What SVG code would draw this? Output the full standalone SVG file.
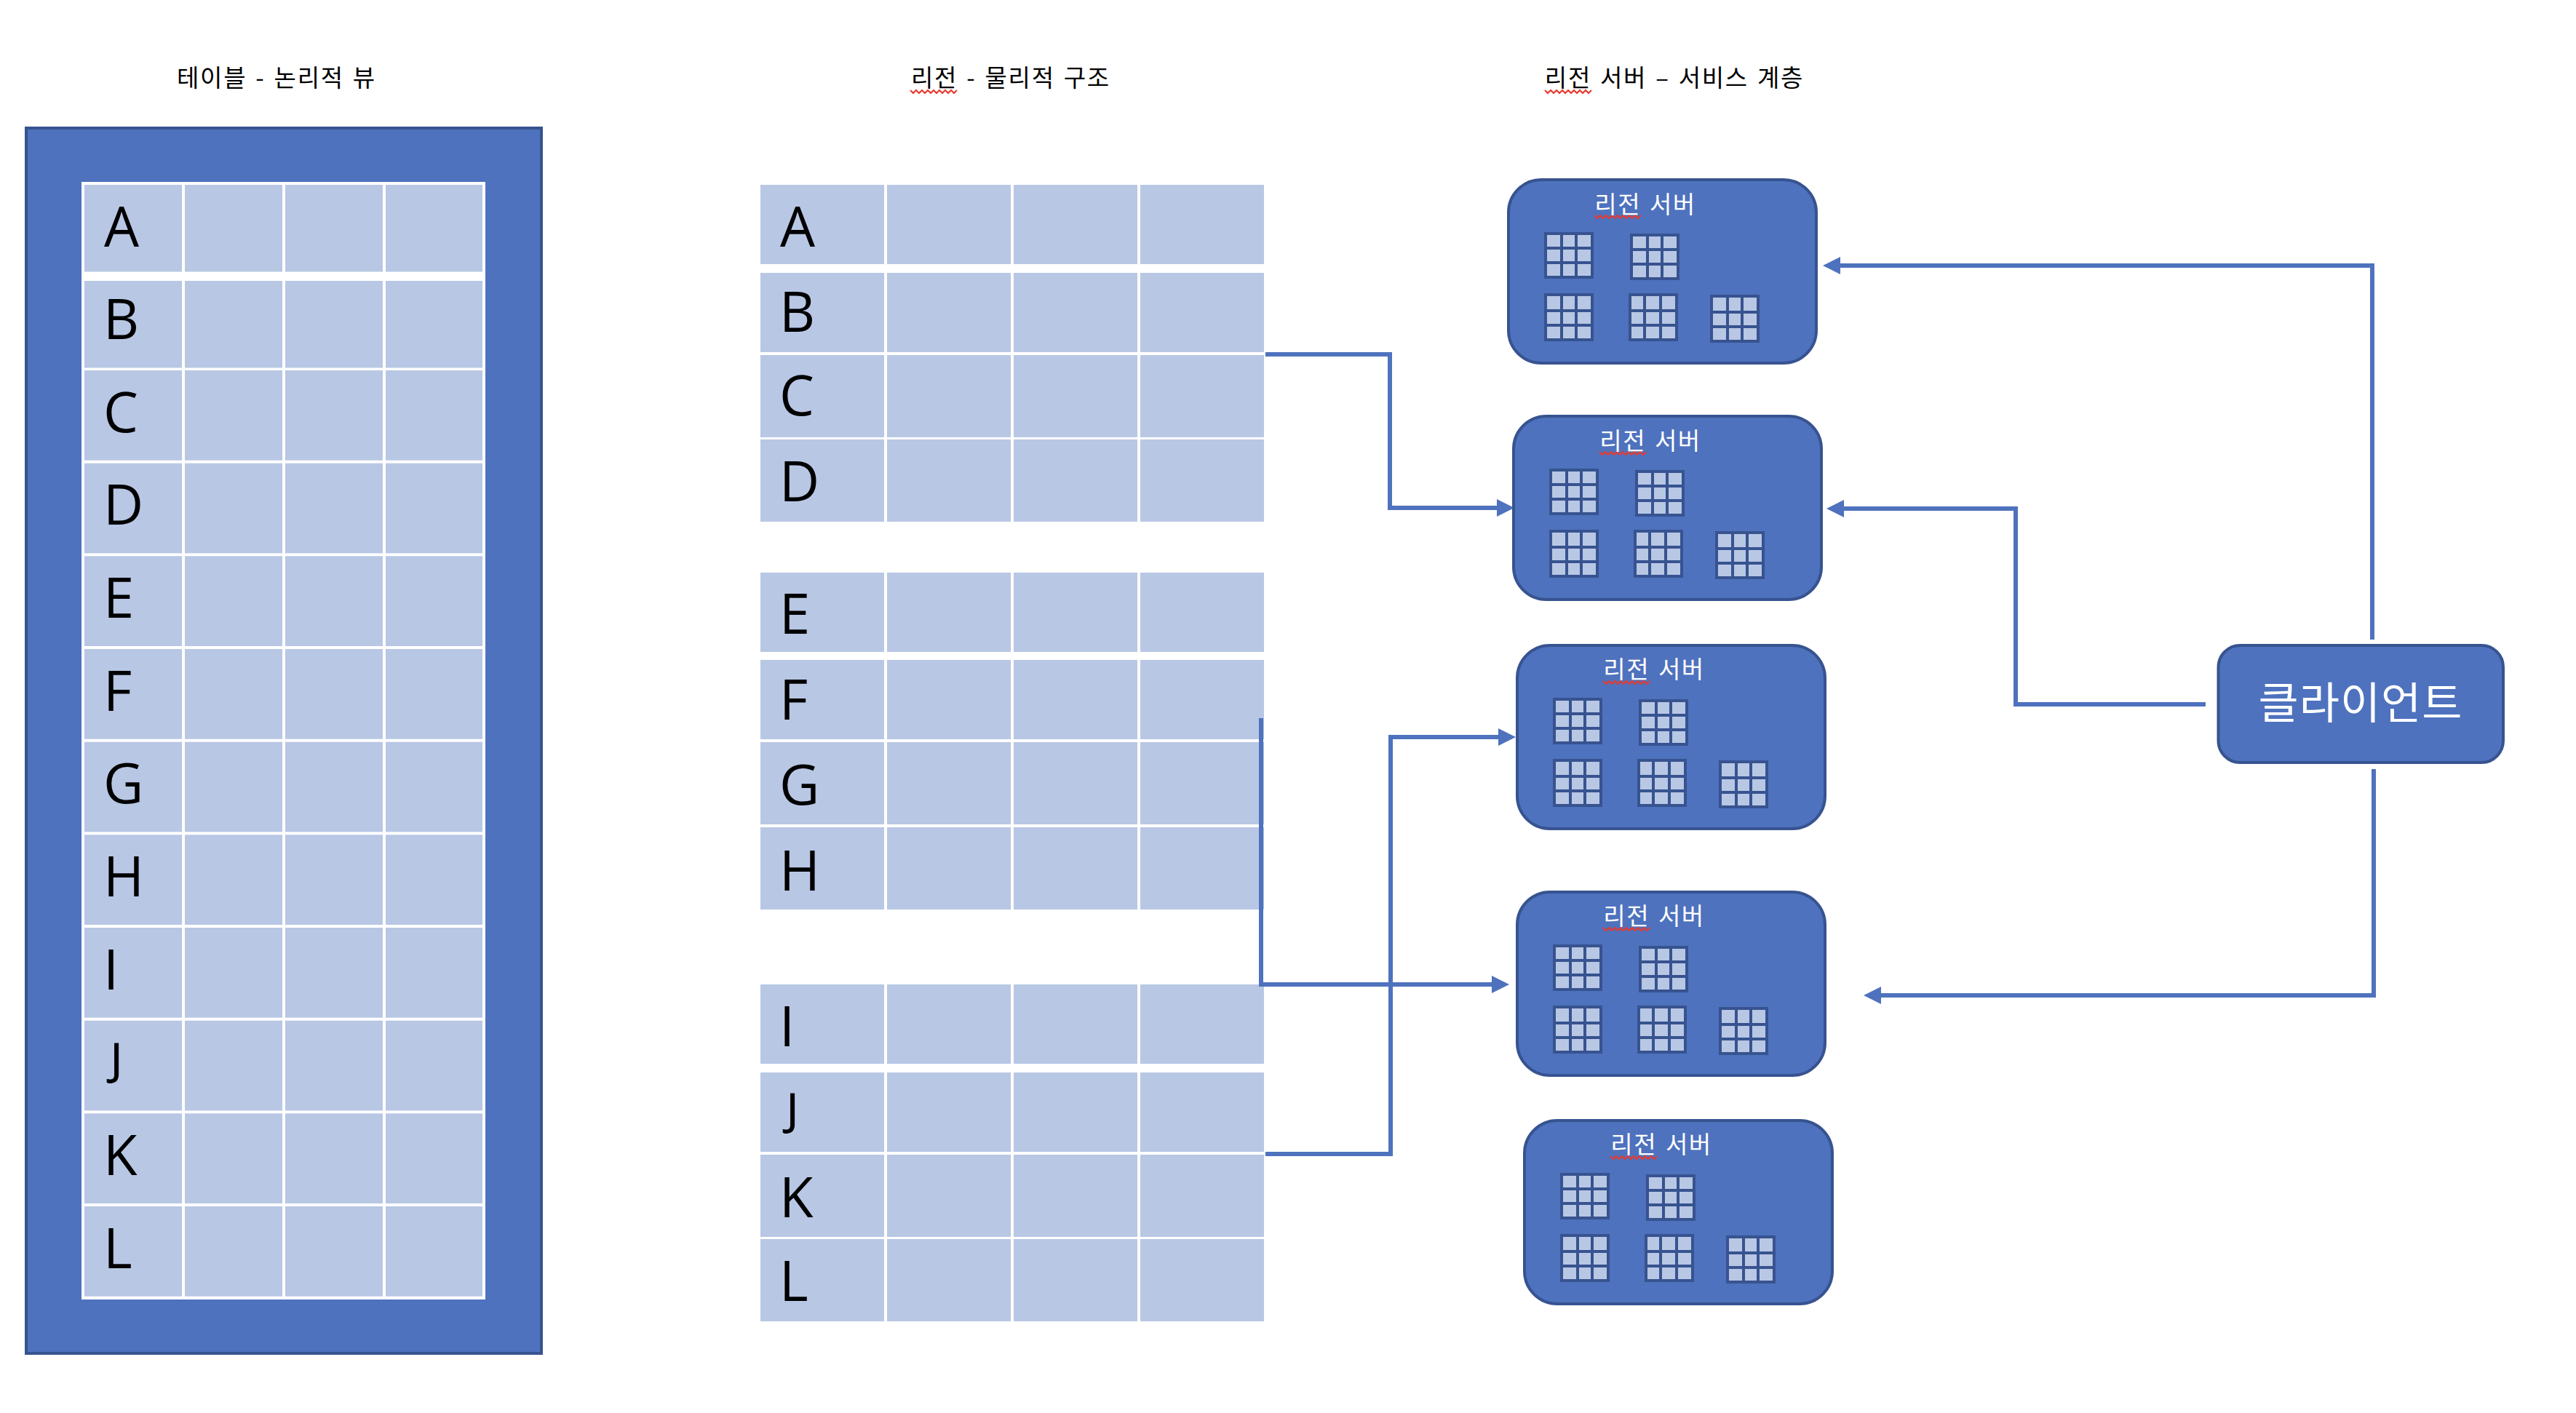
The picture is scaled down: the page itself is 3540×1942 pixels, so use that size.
<svg xmlns="http://www.w3.org/2000/svg" width="3540" height="1942" viewBox="0 0 3540 1942">
<style>
.outer{fill:#4e72bd;stroke:#375390;stroke-width:4}
.cell{fill:#b8c7e4}
.gridbg{fill:#375390}
.kr{font-family:"Noto Sans CJK KR","Noto Sans",sans-serif}
.title{font-size:33px;fill:#000;text-anchor:middle;word-spacing:3px;letter-spacing:1.7px}
.srv{font-size:33px;fill:#fff;text-anchor:middle;word-spacing:3px;letter-spacing:1.5px}
.cli{font-size:60px;fill:#fff;text-anchor:middle;letter-spacing:1px}
.let{font-family:"Open Sans","Noto Sans",sans-serif;font-size:76px;fill:#000}
.let.j{font-size:60px;stroke:#000;stroke-width:1}
.squig{fill:none;stroke:#e8392f;stroke-width:2}
.conn{fill:none;stroke:#4e72bd;stroke-width:6;stroke-linejoin:miter;marker-end:url(#head)}
</style>
<defs>
<marker id="head" markerUnits="strokeWidth" markerWidth="4" markerHeight="4" refX="0" refY="2" orient="auto"><path d="M0,0L4,2L0,4Z" fill="#4e72bd"/></marker>
<path id="sq" d="M0,0l4,4l4,-4l4,4l4,-4l4,4l4,-4l4,4l4,-4l4,4l4,-4l4,4l4,-4l4,4l4,-4l4,4l4,-4"/>
<g id="gridA"><rect class="gridbg" width="68" height="64"/><g class="cell"><rect x="4" y="4" width="18" height="16"/><rect x="26" y="4" width="16" height="16"/><rect x="46" y="4" width="18" height="16"/><rect x="4" y="24" width="18" height="16"/><rect x="26" y="24" width="16" height="16"/><rect x="46" y="24" width="18" height="16"/><rect x="4" y="44" width="18" height="16"/><rect x="26" y="44" width="16" height="16"/><rect x="46" y="44" width="18" height="16"/></g></g>
<g id="gridB"><rect class="gridbg" width="68" height="66"/><g class="cell"><rect x="4" y="4" width="18" height="18"/><rect x="26" y="4" width="16" height="18"/><rect x="46" y="4" width="18" height="18"/><rect x="4" y="26" width="18" height="16"/><rect x="26" y="26" width="16" height="16"/><rect x="46" y="26" width="18" height="16"/><rect x="4" y="46" width="18" height="16"/><rect x="26" y="46" width="16" height="16"/><rect x="46" y="46" width="18" height="16"/></g></g>
<g id="gridC"><rect class="gridbg" width="68" height="66"/><g class="cell"><rect x="4" y="4" width="16" height="18"/><rect x="24" y="4" width="18" height="18"/><rect x="46" y="4" width="18" height="18"/><rect x="4" y="26" width="16" height="16"/><rect x="24" y="26" width="18" height="16"/><rect x="46" y="26" width="18" height="16"/><rect x="4" y="46" width="16" height="16"/><rect x="24" y="46" width="18" height="16"/><rect x="46" y="46" width="18" height="16"/></g></g>
<g id="server">
<rect class="outer" x="2" y="2" width="423" height="252" rx="45"/>
<use href="#gridA" x="51" y="74"/><use href="#gridA" x="169" y="76"/><use href="#gridB" x="51" y="158"/><use href="#gridC" x="167" y="158"/><use href="#gridB" x="279" y="160"/>
<use href="#sq" x="120" y="51" class="squig"/>
</g>
<g id="row4"><rect class="cell" width="170" height="109"/><rect class="cell" x="174" width="170" height="109"/><rect class="cell" x="348" width="170" height="109"/><rect class="cell" x="522" width="170" height="109"/></g>
<g id="row4t"><rect class="cell" width="170" height="113"/><rect class="cell" x="174" width="170" height="113"/><rect class="cell" x="348" width="170" height="113"/><rect class="cell" x="522" width="170" height="113"/></g>
<g id="lrow"><rect class="cell" width="134" height="123.7"/><rect class="cell" x="138" width="134" height="123.7"/><rect class="cell" x="276" width="134" height="123.7"/><rect class="cell" x="414" width="133" height="123.7"/></g>
<g id="lrowS"><rect class="cell" width="134" height="119.5"/><rect class="cell" x="138" width="134" height="119.5"/><rect class="cell" x="276" width="134" height="119.5"/><rect class="cell" x="414" width="133" height="119.5"/></g>
</defs>
<rect width="3540" height="1942" fill="#fff"/>

<text class="kr title" x="380" y="119">테이블 - 논리적 뷰</text>
<text class="kr title" x="1389" y="119">리전 - 물리적 구조</text>
<text class="kr title" x="2301" y="119">리전 서버 – 서비스 계층</text>
<use href="#sq" x="1251" y="124" class="squig"/>
<use href="#sq" x="2123" y="124" class="squig"/>

<g id="logical-table">
<rect class="outer" x="36" y="176" width="708" height="1684"/>
<rect x="112" y="250" width="555" height="1536" fill="#fff"/>
<use href="#lrowS" x="116" y="254"/>
<use href="#lrowS" x="116" y="386"/>
<use href="#lrow" x="116" y="509"/>
<use href="#lrow" x="116" y="636.7"/>
<use href="#lrow" x="116" y="764.3"/>
<use href="#lrow" x="116" y="892"/>
<use href="#lrow" x="116" y="1019.7"/>
<use href="#lrow" x="116" y="1147.3"/>
<use href="#lrow" x="116" y="1275"/>
<use href="#lrow" x="116" y="1402.7"/>
<use href="#lrow" x="116" y="1530.3"/>
<use href="#lrow" x="116" y="1658"/>
<text class="let" x="143" y="339">A</text>
<text class="let" x="142" y="466">B</text>
<text class="let" x="142" y="594">C</text>
<text class="let" x="142" y="721">D</text>
<text class="let" x="142" y="849">E</text>
<text class="let" x="142" y="977">F</text>
<text class="let" x="142" y="1104">G</text>
<text class="let" x="142" y="1232">H</text>
<text class="let" x="142" y="1360">I</text>
<text class="let j" x="152" y="1477">J</text>
<text class="let" x="142" y="1615">K</text>
<text class="let" x="142" y="1743">L</text>
</g>

<g id="physical-regions">
<use href="#row4" x="1045" y="254"/>
<use href="#row4" x="1045" y="375"/>
<use href="#row4t" x="1045" y="488"/>
<use href="#row4t" x="1045" y="604"/>
<use href="#row4" x="1045" y="787"/>
<use href="#row4" x="1045" y="907"/>
<use href="#row4t" x="1045" y="1020"/>
<use href="#row4t" x="1045" y="1137"/>
<use href="#row4" x="1045" y="1353"/>
<use href="#row4" x="1045" y="1474"/>
<use href="#row4t" x="1045" y="1587"/>
<use href="#row4t" x="1045" y="1703"/>
<text class="let" x="1072" y="339">A</text>
<text class="let" x="1071" y="456">B</text>
<text class="let" x="1071" y="571">C</text>
<text class="let" x="1071" y="689">D</text>
<text class="let" x="1071" y="871">E</text>
<text class="let" x="1071" y="989">F</text>
<text class="let" x="1071" y="1106">G</text>
<text class="let" x="1071" y="1224">H</text>
<text class="let" x="1071" y="1438">I</text>
<text class="let j" x="1081" y="1546">J</text>
<text class="let" x="1071" y="1673">K</text>
<text class="let" x="1071" y="1788">L</text>
</g>

<g id="connectors">
<path class="conn" d="M1739,487H1910V698H2057"/>
<path class="conn" d="M1733,987V1353H2050"/>
<path class="conn" d="M1739,1586H1911V1013H2059"/>
<path class="conn" d="M3260,879V365H2529"/>
<path class="conn" d="M3031,968H2770V699H2534"/>
<path class="conn" d="M3262,1057V1368H2585"/>
</g>

<g id="server-1" transform="translate(2071,245)"><use href="#server"/><text class="kr srv" x="190" y="48">리전 서버</text></g>
<g id="server-2" transform="translate(2078,570)"><use href="#server"/><text class="kr srv" x="190" y="48">리전 서버</text></g>
<g id="server-3" transform="translate(2083,885)"><use href="#server"/><text class="kr srv" x="190" y="47">리전 서버</text></g>
<g id="server-4" transform="translate(2083,1224)"><use href="#server"/><text class="kr srv" x="190" y="47">리전 서버</text></g>
<g id="server-5" transform="translate(2093,1538)"><use href="#server"/><text class="kr srv" x="190" y="47">리전 서버</text></g>

<g id="client">
<rect class="outer" x="3048.5" y="887" width="391.5" height="161" rx="30"/>
<text class="kr cli" x="3244" y="988">클라이언트</text>
</g>
</svg>
